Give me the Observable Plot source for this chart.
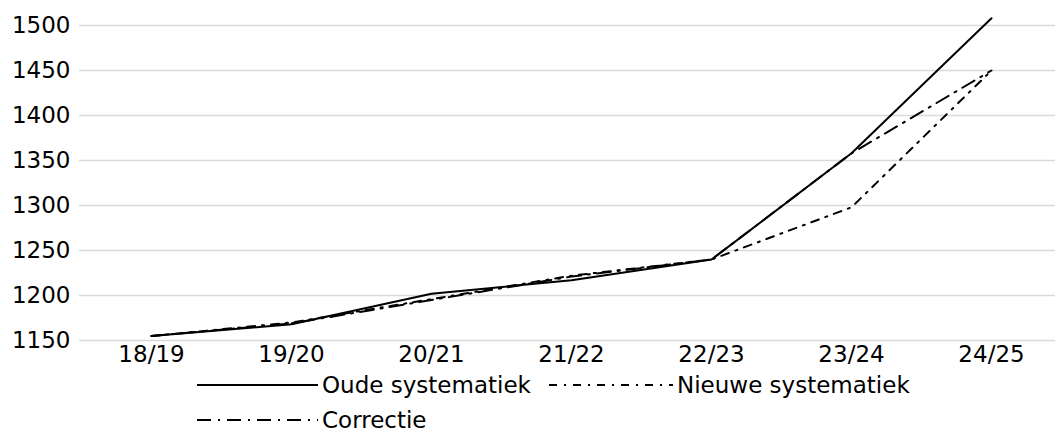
<!DOCTYPE html>
<html>
<head>
<meta charset="utf-8">
<script src="https://cdn.jsdelivr.net/npm/d3@7"></script>
<script src="https://cdn.jsdelivr.net/npm/@observablehq/plot@0.6"></script>
<style>
  html, body { margin: 0; padding: 0; background: #fff; }
  body { width: 1055px; height: 432px; overflow: hidden; font-family: "DejaVu Sans", sans-serif; }
  #legend { position: relative; height: 64px; font-size: 23px; color: #000; }
  .item { position: absolute; display: flex; align-items: center; white-space: nowrap; line-height: 28px; }
  .item svg { display: block; margin-right: 4px; }
</style>
</head>
<body>
<div id="chart"></div>
<div id="legend"></div>
<script>
const years = ["18/19", "19/20", "20/21", "21/22", "22/23", "23/24", "24/25"];
const oude = [1155, 1168, 1202, 1217, 1240, 1358, 1508];
const nieuwe = [1155, 1170, 1196, 1222, 1240, 1298, 1450];
const correctie = [1155, 1169, 1195, 1221, 1240, 1358, 1450];
const yTicks = [1150, 1200, 1250, 1300, 1350, 1400, 1450, 1500];

const seriesNames = ["Oude systematiek", "Nieuwe systematiek", "Correctie"];
const seriesValues = [oude, nieuwe, correctie];
const dashes = [null, "8 7 2 7", "14 7 2 7"];

const rows = [];
seriesNames.forEach((s, i) => years.forEach((y, j) => rows.push({series: s, year: y, value: seriesValues[i][j]})));

const chart = Plot.plot({
  width: 1055,
  height: 368,
  marginLeft: 79,
  marginRight: 0,
  marginTop: 0,
  marginBottom: 28,
  style: {fontFamily: "DejaVu Sans, sans-serif", fontSize: "23px", color: "#000", background: "#fff"},
  x: {type: "point", domain: years, range: [78, 1063], padding: 0.5, label: null},
  y: {domain: [1150, 1500], range: [340, 25], label: null},
  marks: [
    Plot.ruleY(yTicks, {stroke: "#d9d9d9", strokeWidth: 1.6}),
    Plot.axisY({ticks: yTicks, tickFormat: d => String(d), tickSize: 0, tickPadding: 9, label: null, fontSize: 23}),
    Plot.axisX({tickSize: 0, tickPadding: 5, label: null, fontSize: 23}),
    ...seriesNames.map((s, i) => Plot.line(rows.filter(d => d.series === s), {
      x: "year", y: "value", stroke: "#000", strokeWidth: 2, strokeDasharray: dashes[i], strokeLinejoin: "miter"
    }))
  ]
});
document.getElementById("chart").appendChild(chart);

const legendPos = [
  {left: 197, top: 3, len: 121},
  {left: 549, top: 3, len: 124},
  {left: 197, top: 38, len: 121}
];
const legend = d3.select("#legend");
seriesNames.forEach((s, i) => {
  const it = legend.append("div").attr("class", "item")
    .style("left", legendPos[i].left + "px").style("top", legendPos[i].top + "px");
  const sv = it.append("svg").attr("width", legendPos[i].len).attr("height", 24);
  sv.append("line").attr("x1", 0).attr("x2", legendPos[i].len).attr("y1", 12).attr("y2", 12)
    .attr("stroke", "#000").attr("stroke-width", 2).attr("stroke-dasharray", dashes[i]);
  it.append("span").text(s);
});
</script>
</body>
</html>
